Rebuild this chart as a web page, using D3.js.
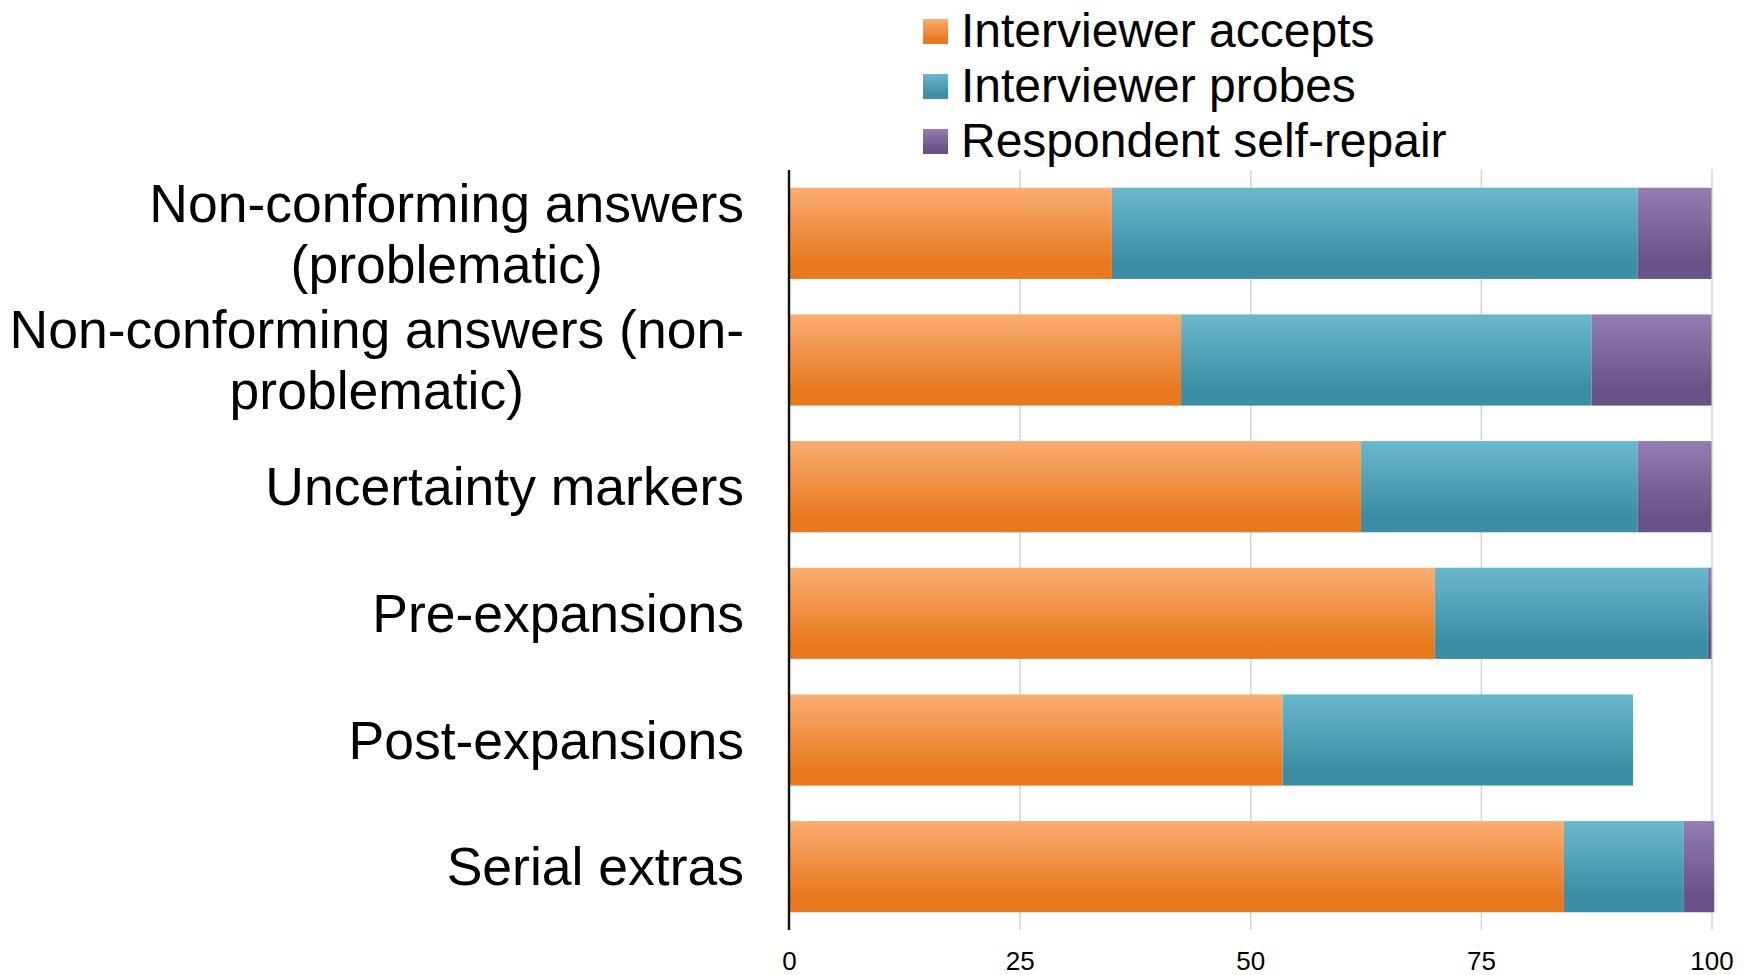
<!DOCTYPE html>
<html>
<head>
<meta charset="utf-8">
<script src="https://cdn.jsdelivr.net/npm/d3@7"></script>
<style>
    body { margin: 0; background: #fff; }
    svg { font-family: "Liberation Sans", Arial, sans-serif; }
</style>
</head>
<body>
<svg id="chart" width="1748" height="975"></svg>
<script>
// Chart data
var categories = [
    "Non-conforming answers\n(problematic)",
    "Non-conforming answers (non-\nproblematic)",
    "Uncertainty markers",
    "Pre-expansions",
    "Post-expansions",
    "Serial extras"
];
var accepts = [35, 42.5, 62, 70, 53.5, 84];
var probes = [57, 44.5, 30, 29.6, 38, 13];
var selfRepair = [8, 13, 8, 0.4, 0, 3.3];
var seriesNames = ["Interviewer accepts", "Interviewer probes", "Respondent self-repair"];
var tickValues = [0, 25, 50, 75, 100];

(function()
{
    "use strict";

    const LEFT = 789;
    const RIGHT = 1711.5;
    const TOP = 170;
    const BOTTOM = 930;

    var colors = [
        { id: "gOrange", top: "#f9ad72", bottom: "#e8791f" },
        { id: "gTeal", top: "#6ab8cd", bottom: "#3b8ea5" },
        { id: "gPurple", top: "#937db1", bottom: "#6a5288" }
    ];

    var svg = d3.select("#chart");

    // Gradients for bar fills
    var defs = svg.append("defs");
    colors.forEach(function(c)
    {
        var g = defs.append("linearGradient")
            .attr("id", c.id)
            .attr("x1", 0).attr("y1", 0)
            .attr("x2", 0).attr("y2", 1);
        g.append("stop").attr("offset", "0").attr("stop-color", c.top);
        g.append("stop").attr("offset", "0.82").attr("stop-color", c.bottom);
        g.append("stop").attr("offset", "1").attr("stop-color", c.bottom);
    });

    var x = d3.scaleLinear().domain([0, 100]).range([LEFT, RIGHT]);
    var y = d3.scaleBand().domain(categories).range([TOP, BOTTOM])
        .paddingInner(0.28).paddingOuter(0.14);

    // Gridlines + tick labels
    var axis = svg.append("g")
        .attr("transform", "translate(0," + BOTTOM + ")")
        .call(d3.axisBottom(x)
            .tickValues(tickValues)
            .tickSizeInner(-(BOTTOM - TOP))
            .tickSizeOuter(0)
            .tickPadding(22));
    axis.select(".domain").remove();
    axis.selectAll(".tick line")
        .attr("stroke", "#d6d6d6")
        .attr("stroke-width", 1.6);
    axis.selectAll(".tick text")
        .attr("font-size", 26)
        .attr("fill", "#000")
        .style("font-family", "'Liberation Sans', Arial, sans-serif");

    // Stacked bars
    var rows = categories.map(function(c, i)
    {
        return { cat: c, values: [accepts[i], probes[i], selfRepair[i]] };
    });

    var rowGroups = svg.append("g").selectAll("g")
        .data(rows)
        .enter().append("g");

    rowGroups.each(function(d)
    {
        var start = 0;
        var g = d3.select(this);
        d.values.forEach(function(v, k)
        {
            if (v > 0)
            {
                g.append("rect")
                    .attr("x", x(start))
                    .attr("y", y(d.cat))
                    .attr("width", x(start + v) - x(start))
                    .attr("height", y.bandwidth())
                    .attr("fill", "url(#" + colors[k].id + ")");
            }
            start += v;
        });
    });

    // Vertical axis line
    svg.append("line")
        .attr("x1", x(0)).attr("x2", x(0))
        .attr("y1", TOP).attr("y2", BOTTOM)
        .attr("stroke", "#111")
        .attr("stroke-width", 2.4);

    // Category labels (block right-aligned, lines centred inside the block)
    const LABEL_RIGHT = 744;
    const LABEL_SIZE = 53.5;
    const LINE_HEIGHT = 61;

    categories.forEach(function(c)
    {
        var lines = c.split("\n");
        var txt = svg.append("text")
            .attr("font-size", LABEL_SIZE)
            .attr("fill", "#000")
            .attr("text-anchor", "middle");
        var spans = lines.map(function(line, i)
        {
            return txt.append("tspan")
                .attr("y", y(c) + y.bandwidth() / 2 + (i - (lines.length - 1) / 2) * LINE_HEIGHT)
                .attr("dy", "0.35em")
                .text(line);
        });
        var maxWidth = d3.max(spans, function(s) { return s.node().getComputedTextLength(); });
        spans.forEach(function(s) { s.attr("x", LABEL_RIGHT - maxWidth / 2); });
    });

    // Legend
    var legend = svg.append("g").selectAll("g")
        .data(seriesNames)
        .enter().append("g")
            .attr("transform", function(d, i) { return "translate(923," + (19 + i * 55) + ")"; });

    legend.append("rect")
        .attr("width", 25)
        .attr("height", 25)
        .attr("fill", function(d, i) { return "url(#" + colors[i].id + ")"; });

    legend.append("text")
        .attr("x", 38)
        .attr("y", 28)
        .attr("font-size", 48)
        .attr("fill", "#000")
        .text(function(d) { return d; });
})();
</script>
</body>
</html>
